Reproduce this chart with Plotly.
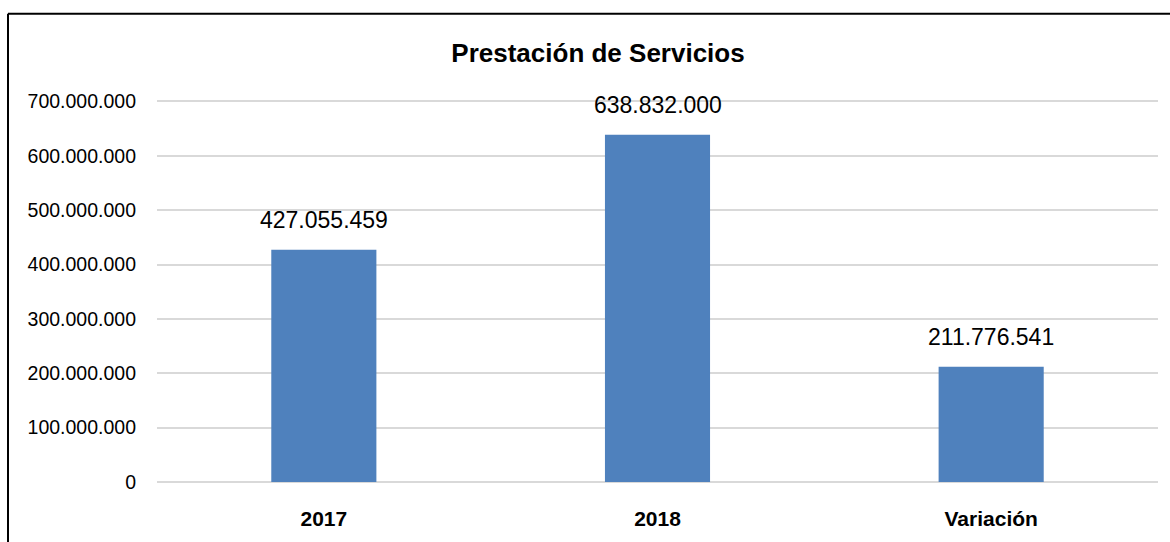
import plotly.graph_objects as go

categories = ["2017", "2018", "Variación"]
values = [427055459, 638832000, 211776541]
tick_vals = [0, 100000000, 200000000, 300000000, 400000000, 500000000, 600000000, 700000000]

W, H = 1170, 542
L, R, T, B = 157, 12, 96, 57
pw, ph = W - L - R, H - T - B

fig = go.Figure()
fig.add_trace(go.Bar(x=categories, y=values, marker=dict(color="#4F81BD", line=dict(width=0)),
                     hoverinfo="x+y"))

for i, v in enumerate(values):
    fig.add_annotation(x=i, y=v, text=f"{v:,}".replace(",", "."), showarrow=False,
                       yanchor="bottom", yshift=15,
                       font=dict(family="Liberation Sans, Arial", size=23, color="#000000"))

fx = (8 - L) / pw
fy_top = (H - B - 13) / ph
fy_bot = (H - B - 560) / ph
fig.add_shape(type="line", xref="paper", yref="paper", x0=fx, x1=fx, y0=fy_bot, y1=fy_top,
              line=dict(color="#000000", width=2))
fig.add_shape(type="line", xref="paper", yref="paper", x0=fx, x1=1.05, y0=fy_top, y1=fy_top,
              line=dict(color="#000000", width=2))

fig.update_layout(
    width=W, height=H,
    margin=dict(l=L, r=R, t=T, b=B),
    paper_bgcolor="#FFFFFF", plot_bgcolor="#FFFFFF",
    separators=",.",
    bargap=0.685,
    showlegend=False,
    title=dict(text="<b>Prestación de Servicios</b>", x=(598) / W, xanchor="center",
               y=1 - 53 / H, yanchor="middle", yref="container",
               font=dict(family="Liberation Sans, Arial", size=26, color="#000000")),
    xaxis=dict(type="category", range=[-0.5, len(categories) - 0.5],
               showgrid=False, showline=False, ticks="", ticklabelstandoff=22,
               tickfont=dict(family="Liberation Sans, Arial", size=21, color="#000000", weight="bold")),
    yaxis=dict(range=[0, 710000000], tickvals=tick_vals, tickformat=",d",
               showgrid=True, gridcolor="#D9D9D9", gridwidth=1.5,
               zeroline=True, zerolinecolor="#D9D9D9", zerolinewidth=1.5,
               showline=False, ticks="", ticklabelstandoff=20,
               tickfont=dict(family="Liberation Sans, Arial", size=19.5, color="#000000")),
)

fig.write_html("out.html", config={"displayModeBar": False},
               post_script="document.body.style.margin='0';document.body.style.padding='0';document.body.style.overflow='hidden';")
